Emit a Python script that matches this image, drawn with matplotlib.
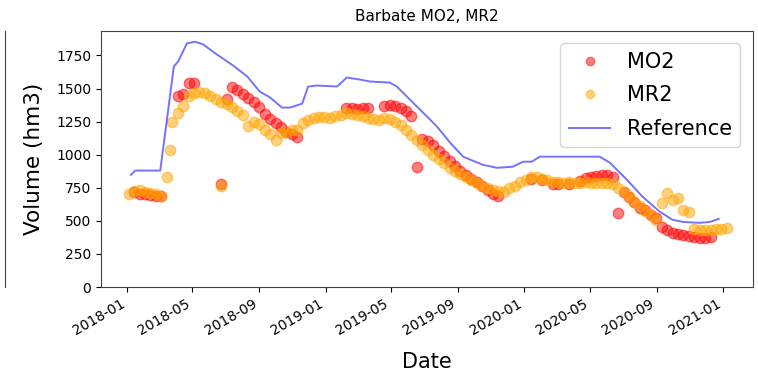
import numpy as np
import pandas as pd
import matplotlib
matplotlib.use("Agg")
import matplotlib.pyplot as plt
import matplotlib.dates as mdates

nan = np.nan

# both retrievals share a 10-day sampling grid
GRID_START = "2018-01-04"
GRID_STEP = "10D"

MO2_VOL = [
    nan, 715, 705, 700, 695, 690, 685, nan, nan, 1440,
    1460, 1545, 1540, nan, nan, nan, nan, 775, 1420, 1508,
    1490, 1460, 1430, 1400, 1360, 1310, 1270, 1242, 1210, 1170,
    1160, 1136, nan, nan, nan, nan, nan, nan, nan, nan,
    1356, 1350, 1345, 1350, 1356, nan, nan, 1370, 1379, 1370,
    1356, 1330, 1290, 909, 1120, 1100, 1070, 1030, 990, 950,
    915, 880, 845, 815, 790, 760, 730, 705, 690, nan,
    nan, nan, nan, nan, 815, nan, 805, nan, 780, 775,
    nan, 780, nan, 800, 825, 833, 840, 848, 848, 833,
    561, 720, 682, 640, 600, 583, 545, 520, 455, 430,
    409, 400, 394, 385, 375, 371, 371, 375, nan, nan, nan,
]

MR2_VOL = [
    705, 725, 735, 718, 712, 700, 690, 833, 1250, 1318,
    1370, 1440, 1470, 1475, 1465, 1440, 1420, 1400, 1385, 1360,
    1330, 1300, 1215, 1250, 1230, 1190, 1160, 1114, 1165, 1175,
    1185, 1190, 1240, 1265, 1275, 1285, 1288, 1280, 1290, 1300,
    1318, 1310, 1300, 1290, 1280, 1270, 1265, 1275, 1270, 1245,
    1225, 1190, 1150, 1110, 1070, 1035, 1000, 965, 935, 900,
    880, 855, 830, 810, 785, 765, 750, 735, 725, 718,
    745, 765, 795, 810, 833, 830, 820, 805, 795, 790,
    788, 790, 785, 788, 790, 788, 785, 788, 785, 780,
    745, 715, 690, 645, 610, 575, 545, 510, 636, 712,
    660, 674, 583, 568, 440, 432, 430, 432, 435, 440, 445,
]

# off-grid MR2 acquisitions
MR2_EXTRA_DATES = ["2018-03-21", "2018-06-23"]
MR2_EXTRA_VOL = [1038, 760]

REF_DATES = [
    "2018-01-08", "2018-01-16", "2018-03-03", "2018-03-28", "2018-04-05",
    "2018-04-21", "2018-05-06", "2018-05-21", "2018-06-15", "2018-07-15",
    "2018-08-10", "2018-09-02", "2018-09-21", "2018-10-13", "2018-10-28",
    "2018-11-19", "2018-11-30", "2018-12-16", "2019-01-22", "2019-02-09",
    "2019-03-05", "2019-03-24", "2019-04-29", "2019-05-12", "2019-06-18",
    "2019-07-25", "2019-08-18", "2019-09-11", "2019-10-17", "2019-11-12",
    "2019-12-11", "2019-12-30", "2020-01-15", "2020-01-30", "2020-03-01",
    "2020-04-18", "2020-05-19", "2020-06-07", "2020-07-08", "2020-08-06",
    "2020-09-07", "2020-09-30", "2020-10-19", "2020-11-19", "2020-12-08",
    "2020-12-24",
]
REF_VOL = [
    848, 880, 880, 1667, 1705, 1841, 1854, 1833, 1758, 1674,
    1591, 1477, 1432, 1356, 1356, 1386, 1515, 1523, 1515, 1583,
    1568, 1553, 1545, 1515, 1364, 1212, 1091, 985, 924, 901,
    909, 947, 947, 985, 985, 985, 985, 939, 811, 682,
    568, 508, 492, 485, 492, 515,
]

grid = pd.date_range(GRID_START, periods=len(MR2_VOL), freq=GRID_STEP)
mo2 = pd.Series(MO2_VOL, index=grid).dropna()
mr2 = pd.concat([
    pd.Series(MR2_VOL, index=grid),
    pd.Series(MR2_EXTRA_VOL, index=pd.to_datetime(MR2_EXTRA_DATES)),
]).sort_index()
ref = pd.Series(REF_VOL, index=pd.to_datetime(REF_DATES))

fig = plt.figure(figsize=(7.58, 3.76), dpi=100)

# edge of the neighbouring panel on the left
side = fig.add_axes([-0.5, 0.2367, 0.5 + 5 / 758, 0.6809])
for name in ("left", "top", "bottom"):
    side.spines[name].set_visible(False)
side.spines["right"].set_color("#444444")
side.set_xticks([])
side.set_yticks([])

ax = fig.add_axes([0.1332, 0.2367, 0.8602, 0.6809])
ax.plot(mo2.index, mo2.values, "o", color="red", alpha=0.5, ms=7.5, label="MO2")
ax.plot(mr2.index, mr2.values, "o", color="orange", alpha=0.5, ms=7.5, label="MR2")
ax.plot(ref.index, ref.values, color="blue", alpha=0.55, lw=1.4, label="Reference")

ax.set_title("Barbate MO2, MR2", fontsize=11, pad=7)
ax.set_ylabel("Volume (hm3)", fontsize=15.5, labelpad=9)
ax.set_xlabel("Date", fontsize=15, labelpad=10)
ax.set_ylim(0, 1935)
ax.set_xlim(pd.Timestamp("2017-11-14"), pd.Timestamp("2021-02-25"))
ax.xaxis.set_major_locator(mdates.MonthLocator(bymonth=[1, 5, 9]))
ax.xaxis.set_major_formatter(mdates.DateFormatter("%Y-%m"))
ax.tick_params(labelsize=10)
for lbl in ax.get_xticklabels():
    lbl.set_rotation(30)
    lbl.set_ha("right")
for sp in ax.spines.values():
    sp.set_color("#444444")

ax.legend(loc="upper right", fontsize=15, markerscale=0.8,
          labelspacing=0.65, borderaxespad=0.6)

fig.savefig("out.png", dpi=100)
